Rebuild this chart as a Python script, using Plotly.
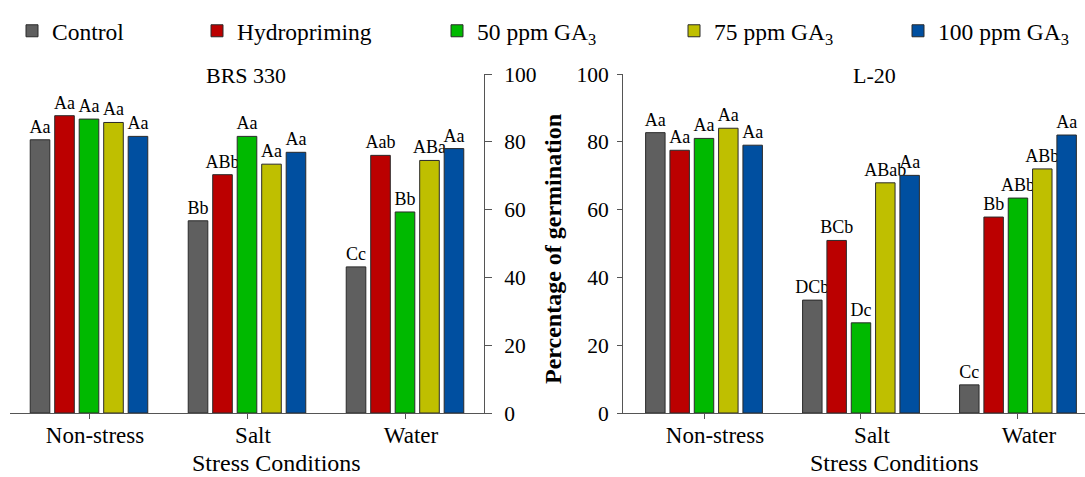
import plotly.graph_objects as go

categories = ["Non-stress", "Salt", "Water"]
treatments = ["Control", "Hydropriming", "50 ppm GA<sub>3</sub>", "75 ppm GA<sub>3</sub>", "100 ppm GA<sub>3</sub>"]
colors = ["#5f5f5f", "#bb0000", "#00b900", "#bfbf00", "#004fa0"]

# BRS 330 values (per treatment across categories)
brs_control = [80.6, 56.7, 43.1]
brs_hydro = [87.7, 70.3, 76.0]
brs_ga50 = [86.7, 81.6, 59.3]
brs_ga75 = [85.7, 73.4, 74.5]
brs_ga100 = [81.6, 76.9, 78.0]
brs_labels_control = ["Aa", "Bb", "Cc"]
brs_labels_hydro = ["Aa", "ABb", "Aab"]
brs_labels_ga50 = ["Aa", "Aa", "Bb"]
brs_labels_ga75 = ["Aa", "Aa", "ABa"]
brs_labels_ga100 = ["Aa", "Aa", "Aa"]

# L-20 values
l20_control = [82.7, 33.3, 8.3]
l20_hydro = [77.5, 50.9, 57.8]
l20_ga50 = [81.0, 26.6, 63.4]
l20_ga75 = [84.0, 67.9, 72.0]
l20_ga100 = [79.0, 70.1, 82.0]
l20_labels_control = ["Aa", "DCb", "Cc"]
l20_labels_hydro = ["Aa", "BCb", "Bb"]
l20_labels_ga50 = ["Aa", "Dc", "ABb"]
l20_labels_ga75 = ["Aa", "ABab", "ABb"]
l20_labels_ga100 = ["Aa", "Aa", "Aa"]

y_ticks = [0, 20, 40, 60, 80, 100]

brs_vals = [brs_control, brs_hydro, brs_ga50, brs_ga75, brs_ga100]
brs_lbls = [brs_labels_control, brs_labels_hydro, brs_labels_ga50, brs_labels_ga75, brs_labels_ga100]
l20_vals = [l20_control, l20_hydro, l20_ga50, l20_ga75, l20_ga100]
l20_lbls = [l20_labels_control, l20_labels_hydro, l20_labels_ga50, l20_labels_ga75, l20_labels_ga100]

SERIF = "Liberation Serif"
W, H = 1085, 477
T, B = 74, 64
plot_h = H - T - B

fig = go.Figure()
legend_names = ["legend", "legend2", "legend3", "legend4", "legend5"]
for i, name in enumerate(treatments):
    fig.add_trace(go.Bar(
        x=categories, y=brs_vals[i], name=name, text=brs_lbls[i],
        textposition="outside", constraintext="none", cliponaxis=False,
        textfont=dict(family=SERIF, size=18, color="black"),
        marker=dict(color=colors[i], line=dict(color="#2a2a2a", width=1)),
        xaxis="x", yaxis="y", legend=legend_names[i], legendgroup=str(i),
    ))
    fig.add_trace(go.Bar(
        x=categories, y=l20_vals[i], name=name, text=l20_lbls[i],
        textposition="outside", constraintext="none", cliponaxis=False,
        textfont=dict(family=SERIF, size=18, color="black"),
        marker=dict(color=colors[i], line=dict(color="#2a2a2a", width=1)),
        xaxis="x2", yaxis="y2", showlegend=False, legendgroup=str(i),
    ))

axis_common = dict(showgrid=False, zeroline=False, showline=True, linecolor="#555555",
                   linewidth=1, ticks="outside", tickcolor="#555555")
xfont = dict(family=SERIF, size=23, color="black")
yfont = dict(family=SERIF, size=21.5, color="black")

# legend positions (text start px)
legend_text_px = [52, 237, 477, 714, 938]
legend_y = (H - B - 31) / plot_h
legends = {}
for i, ln in enumerate(legend_names):
    legends[ln] = dict(
        x=(legend_text_px[i] - 40) / W, xanchor="left",
        y=legend_y, yanchor="middle", orientation="h",
        font=dict(family=SERIF, size=23.5, color="black"),
        bgcolor="rgba(0,0,0,0)", borderwidth=0,
    )

fig.update_layout(
    width=W, height=H,
    margin=dict(l=0, r=0, t=T, b=B),
    paper_bgcolor="white", plot_bgcolor="white",
    barmode="group", bargap=0.225, bargroupgap=0.2,
    font=dict(family=SERIF, color="black"),
    xaxis=dict(domain=[10 / W, 484 / W], range=[-0.5, 2.5], anchor="y",
               ticklabelshift=6, ticklabelstandoff=-4, ticklen=5, tickfont=xfont,
               **axis_common),
    yaxis=dict(domain=[0, 1], range=[0, 100], anchor="x", side="right",
               tickvals=y_ticks, ticklen=7, ticklabelstandoff=8, tickfont=yfont,
               **axis_common),
    xaxis2=dict(domain=[623 / W, 1.0], range=[-0.516, 2.427], anchor="y2",
                ticklabelshift=11, ticklabelstandoff=-4, ticklen=5, tickfont=xfont,
                **axis_common),
    yaxis2=dict(domain=[0, 1], range=[0, 100], anchor="x2", side="left",
                tickvals=y_ticks, ticklen=5, ticklabelstandoff=4, tickfont=yfont,
                **axis_common),
    **legends,
)

def py(px):
    return (H - B - px) / plot_h

annots = [
    dict(text="BRS 330", x=246 / W, y=py(75), font=dict(size=22)),
    dict(text="L-20", x=874 / W, y=py(75), font=dict(size=22)),
    dict(text="Stress Conditions", x=276 / W, y=py(463), font=dict(size=24)),
    dict(text="Stress Conditions", x=894 / W, y=py(463), font=dict(size=24)),
    dict(text="<b>Percentage of germination</b>", x=553 / W, y=py(249), textangle=-90,
         font=dict(size=24)),
]
for a in annots:
    a.update(xref="paper", yref="paper", showarrow=False, xanchor="center", yanchor="middle")
    a["font"].update(family=SERIF, color="black")
    fig.add_annotation(**a)

fig.write_html("out.html", config={"displayModeBar": False},
               post_script="document.body.style.margin='0';")
